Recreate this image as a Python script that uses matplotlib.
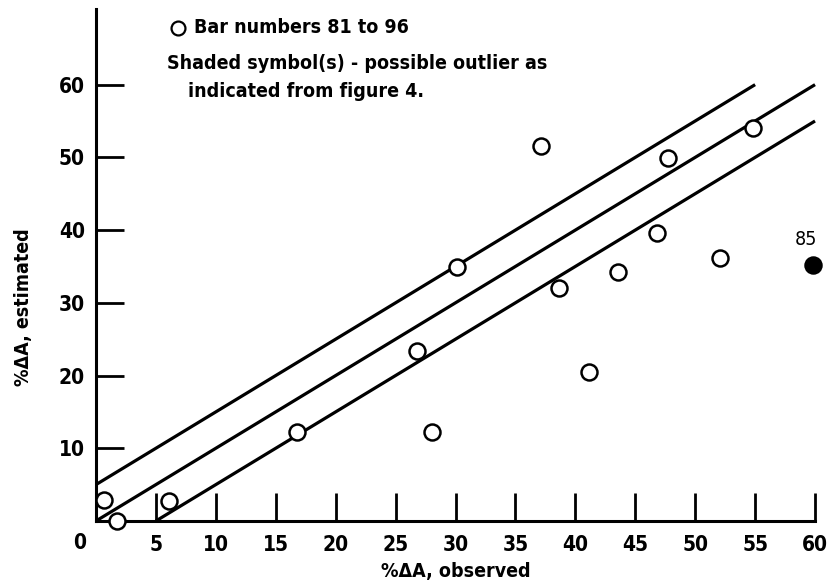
import matplotlib
matplotlib.use("Agg")
import matplotlib.pyplot as plt

plt.rcParams["font.family"] = ["DejaVu Sans"]
plt.rcParams["font.stretch"] = "condensed"
plt.rcParams["font.weight"] = "bold"
plt.rcParams["axes.labelweight"] = "bold"

# observed vs estimated %dA, bar numbers 81 to 96
observed = [0.7, 1.75, 6.1, 16.8, 26.8, 28.0, 30.1, 37.1, 38.6, 41.1, 43.6, 46.8, 47.7, 52.1, 54.8]
estimated = [2.9, 0.0, 2.75, 12.2, 23.4, 12.3, 34.9, 51.6, 32.0, 20.5, 34.2, 39.6, 49.9, 36.2, 54.0]

# possible outlier (shaded)
outlier_x = [59.8]
outlier_y = [35.2]
outlier_label = "85"

# perfect agreement line and +/-5 band
center_x = [0, 60]
center_y = [0, 60]
upper_x = [0, 55]
upper_y = [5, 60]
lower_x = [5, 60]
lower_y = [0, 55]

xticks = [5, 10, 15, 20, 25, 30, 35, 40, 45, 50, 55, 60]
yticks = [10, 20, 30, 40, 50, 60]

fig = plt.figure(figsize=(8.32, 5.86), dpi=100)
ax = fig.add_axes([0.1154, 0.111, 0.8642, 0.8736])

for xs, ys in [(center_x, center_y), (upper_x, upper_y), (lower_x, lower_y)]:
    ax.plot(xs, ys, color="black", lw=2.3, solid_capstyle="butt", clip_on=False)

ax.plot(observed, estimated, "o", ms=11.5, mfc="white", mec="black", mew=1.8,
        clip_on=False, zorder=3)
ax.plot(outlier_x, outlier_y, "o", ms=11.5, mfc="black", mec="black", mew=1.8,
        clip_on=False, zorder=3)
ax.text(outlier_x[0] - 0.6, outlier_y[0] + 2.2, outlier_label, fontsize=14,
        ha="center", va="bottom", fontweight="normal")

ax.set_xlim(0, 60)
ax.set_ylim(0, 70.4)
ax.set_xticks(xticks)
ax.set_yticks(yticks)
ax.tick_params(direction="in", length=20, width=2, labelsize=15, color="black")
ax.tick_params(axis="x", pad=10)
ax.tick_params(axis="y", pad=8)
for s in ["top", "right"]:
    ax.spines[s].set_visible(False)
for s in ["left", "bottom"]:
    ax.spines[s].set_linewidth(2.2)

ax.text(-1.4, -3.0, "0", fontsize=15, ha="center", va="center")

ax.set_xlabel("%\u0394A, observed", fontsize=14, labelpad=5)
ax.set_ylabel("%\u0394A, estimated", fontsize=14)
ax.yaxis.set_label_coords(-0.088, 0.418)

# legend notes
ax.plot([6.85], [67.8], "o", ms=10, mfc="white", mec="black", mew=1.6, clip_on=False)
ax.text(8.2, 67.8, "Bar numbers 81 to 96", fontsize=14, va="center")
ax.text(5.9, 62.9, "Shaded symbol(s) - possible outlier as", fontsize=14, va="center")
ax.text(7.7, 59.0, "indicated from figure 4.", fontsize=14, va="center")

fig.savefig("out.png", dpi=100, facecolor="white")
